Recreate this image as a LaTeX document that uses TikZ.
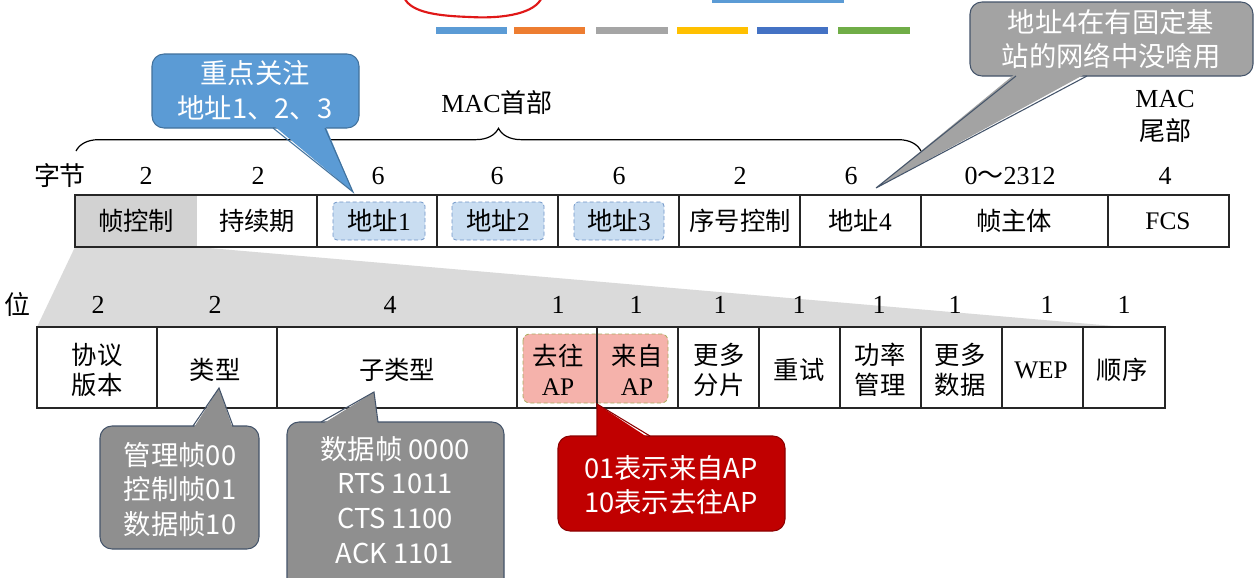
\documentclass[tikz,border=0pt]{standalone}
\usepackage{fontspec}
\setmainfont{Liberation Serif}
\newfontfamily\zh{Noto Sans CJK SC}
\usetikzlibrary{decorations.pathreplacing}
\newcommand\z[1]{{\zh #1}}
\definecolor{cBlue}{HTML}{5B9BD5}
\definecolor{cBlueD}{HTML}{41719C}
\definecolor{cGray}{HTML}{A3A3A3}
\definecolor{cGrayB}{HTML}{8F8F8F}
\definecolor{cGrayD}{HTML}{44546A}
\definecolor{cRed}{HTML}{C00000}
\definecolor{cRedD}{HTML}{8C0000}
\definecolor{cLB}{HTML}{C9DDF1}
\definecolor{cLBD}{HTML}{7096C8}
\definecolor{cPink}{HTML}{F5B2AB}
\definecolor{cPinkD}{HTML}{A9AC5C}
\definecolor{cTrap}{HTML}{DADADA}
\definecolor{cCell}{HTML}{D2D2D2}
\definecolor{cOr}{HTML}{ED7D31}
\definecolor{cGr}{HTML}{A5A5A5}
\definecolor{cYe}{HTML}{FFC000}
\definecolor{cBt}{HTML}{4472C4}
\definecolor{cGn}{HTML}{70AD47}
\definecolor{cScr}{HTML}{E01818}
\newcommand\callbox[6]{\filldraw[fill=#1, draw=#2, line width=0.8pt, rounded corners=9pt] (#3,#4) rectangle (#5,#6);}
% fill, draw, base-left x, base-right x, base y, inner y, apex
\newcommand\callptr[7]{%
  \fill[#1] (#3,#6) -- (#7) -- (#4,#6) -- cycle;
  \draw[#2, line width=0.8pt, line join=miter] (#3,#5) -- (#7) -- (#4,#5);}
\begin{document}
\begin{tikzpicture}[x=0.75pt,y=-0.75pt,
  tb/.style={font=\fontsize{19}{22.5}\selectfont, align=center, inner sep=0pt},
  nm/.style={font=\fontsize{19.5}{24.75}\selectfont, align=center, inner sep=0pt},
  ct/.style={font=\zh\fontsize{20.5}{26}\selectfont, text=white, align=center, inner sep=0pt},
  grid/.style={draw=black!85, line width=0.9pt},
  addr/.style={fill=cLB, draw=cLBD, dashed, dash pattern=on 3pt off 2pt, line width=0.6pt, rounded corners=3pt},
  apbox/.style={fill=cPink, draw=cPinkD, dashed, dash pattern=on 3pt off 2pt, line width=0.6pt, rounded corners=5pt}]
\useasboundingbox (0,0) rectangle (1258,578);
\clip (0,0) rectangle (1258,578);
\fill[white] (0,0) rectangle (1258,578);

% slide artefacts at the top
\draw[cScr, line width=1.6pt, line cap=round] (404,-3) .. controls (410,13) and (440,16) .. (470,17) .. controls (505,19) and (536,13) .. (542,-3);
\fill[cBlue] (712,-1) rectangle (844,2.5);
\fill[cBlue] (436,27) rectangle (507,34);
\fill[cOr]   (514,27) rectangle (585,34);
\fill[cGr]   (596,27) rectangle (668,34);
\fill[cYe]   (677,27) rectangle (748,34);
\fill[cBt]   (757,27) rectangle (828,34);
\fill[cGn]   (838,27) rectangle (910,34);

% zoom trapezoid
\fill[cTrap] (75,247) -- (197,247) -- (1125,327) -- (37,327) -- cycle;

% row 1
\fill[white] (75,195) rectangle (1229,247);
\fill[cCell] (75,195) rectangle (197,247);
\draw[addr] (333,202) rectangle (425,240);
\draw[addr] (452,202) rectangle (544,240);
\draw[addr] (574,202) rectangle (664,240);
\draw[grid] (75,195) rectangle (1229,247);
\foreach \x in {317,437,558,679,800,921,1108} \draw[grid] (\x,195) -- (\x,247);

% row 2
\fill[white] (37,327) rectangle (1165,408);
\draw[apbox] (523,334) rectangle (668,403);
\draw[grid] (37,327) rectangle (1165,408);
\foreach \x in {157,277,517,597,678,759,840,921,1002,1083} \draw[grid] (\x,327) -- (\x,408);

% brace
\draw[line width=0.9pt, decorate, decoration={brace, amplitude=17pt}] (76,151) -- (921,151);
\node[nm] (mach) at (497,103) {MAC\z{首部}};
\node[nm] (mact) at (1165,116) {MAC\\\z{尾部}};

% byte numbers
\node[nm] (zj) at (60,176) {\z{字节}};
\node[nm] (n1) at (146,176) {2};
\node[nm] (n2) at (258,176) {2};
\node[nm] (n3) at (378,176) {6};
\node[nm] (n4) at (497,176) {6};
\node[nm] (n5) at (619,176) {6};
\node[nm] (n6) at (740,176) {2};
\node[nm] (n7) at (851,176) {6};
\node[nm] (n8) at (1010,176) {0\z{～}2312};
\node[nm] (n9) at (1165,176) {4};

% row 1 texts
\node[tb] (f1) at (136,221) {\z{帧控制}};
\node[tb] (f2) at (257,221) {\z{持续期}};
\node[tb] (f3) at (379,221) {\z{地址}1};
\node[tb] (f4) at (498,221) {\z{地址}2};
\node[tb] (f5) at (619,221) {\z{地址}3};
\node[tb] (f6) at (740,221) {\z{序号控制}};
\node[tb] (f7) at (860,221) {\z{地址}4};
\node[tb] (f8) at (1014,221) {\z{帧主体}};
\node[tb] (f9) at (1168,221) {FCS};

% bit numbers
\node[nm] (wei) at (18,305) {\z{位}};
\node[nm] (m1) at (98,305) {2};
\node[nm] (m2) at (215,305) {2};
\node[nm] (m3) at (390,305) {4};
\node[nm] (m4) at (558,305) {1};
\node[nm] (m5) at (636,305) {1};
\node[nm] (m6) at (720,305) {1};
\node[nm] (m7) at (799,305) {1};
\node[nm] (m8) at (879,305) {1};
\node[nm] (m9) at (955,305) {1};
\node[nm] (m10) at (1047,305) {1};
\node[nm] (m11) at (1124,305) {1};

% row 2 texts
\node[tb] (b1) at (97,370) {\z{协议}\\\z{版本}};
\node[tb] (b2) at (215,370) {\z{类型}};
\node[tb] (b3) at (397,370) {\z{子类型}};
\node[tb] (b4) at (558,370) {\z{去往}\\AP};
\node[tb] (b5) at (637,370) {\z{来自}\\AP};
\node[tb] (b6) at (719,370) {\z{更多}\\\z{分片}};
\node[tb] (b7) at (799,370) {\z{重试}};
\node[tb] (b8) at (880,370) {\z{功率}\\\z{管理}};
\node[tb] (b9) at (960,370) {\z{更多}\\\z{数据}};
\node[tb] (b10) at (1041,370) {WEP};
\node[tb] (b11) at (1122,370) {\z{顺序}};

% callout apexes
\coordinate (pA) at (353,192);
\coordinate (pB) at (876,188);
\coordinate (pC) at (219,388);
\coordinate (pD) at (374,392);
\coordinate (pE) at (597,404);

% callout A (blue)
\callbox{cBlue}{cBlueD}{152}{54}{359}{128}
\callptr{cBlue}{cBlueD}{273}{325}{128}{125}{pA}
\node[ct] (tA) at (255,90.5) {重点关注\\地址1、2、3};

% callout B (grey, top right)
\callbox{cGray}{cGrayD}{970}{2}{1253}{76}
\callptr{cGray}{cGrayD}{1016}{1087}{76}{73}{pB}
\node[ct] (tB) at (1111,39) {地址4在有固定基\\站的网络中没啥用};

% callout C
\callbox{cGrayB}{cGrayD}{100}{426}{259}{549}
\callptr{cGrayB}{cGrayD}{193}{233}{426}{429}{pC}
\node[ct] (tC) at (180,489.5) {管理帧00\\控制帧01\\数据帧10};

% callout D
\callbox{cGrayB}{cGrayD}{287}{422}{504}{592}
\callptr{cGrayB}{cGrayD}{321}{378}{422}{425}{pD}
\node[ct] (tD) at (395,500) {数据帧 0000\\RTS 1011\\CTS 1100\\ACK 1101};

% callout E (red)
\callbox{cRed}{cRedD}{558}{436}{785}{531}
\callptr{cRed}{cRedD}{597}{650}{436}{439}{pE}
\node[ct] (tE) at (671,485) {01表示来自AP\\10表示去往AP};
\end{tikzpicture}
\end{document}
